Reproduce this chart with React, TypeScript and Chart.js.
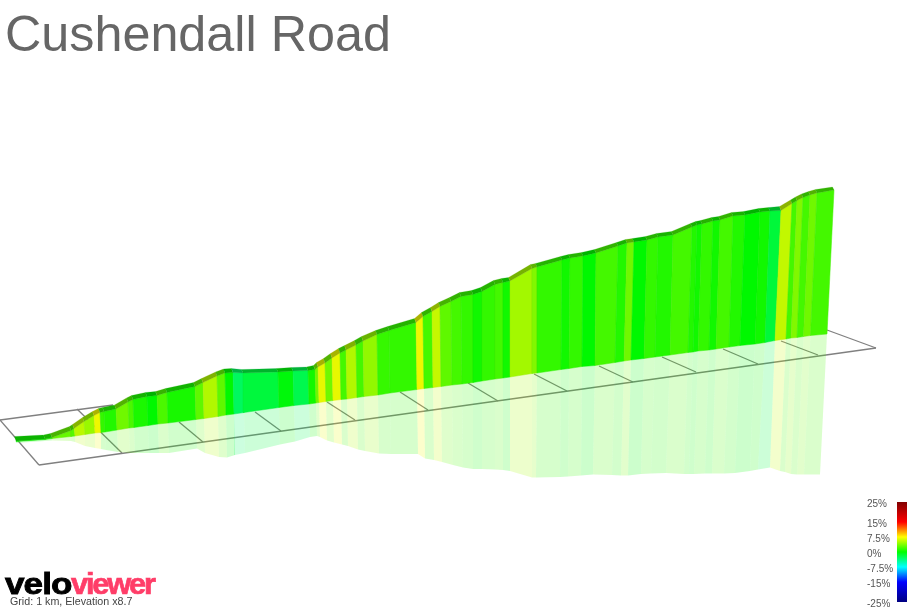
import React, { useEffect, useRef } from 'react';
import Chart from 'chart.js/auto';

// one entry per station along the climb
const topX = [16, 45, 52, 71, 74, 84, 94, 100, 104, 116, 128, 133, 147, 157, 167, 195, 203, 217, 225, 233, 243, 278, 293, 308, 315, 318, 325, 332, 340, 346, 356, 363, 377, 389, 416, 423, 432, 440, 451, 461, 473, 482, 495, 503, 510, 532, 537, 562, 570, 583, 596, 618, 627, 634, 647, 658, 673, 692, 697, 702, 713, 720, 733, 745, 760, 770, 781, 792, 797, 803, 810, 817, 834];
const ridgeY = [436.5, 435, 433.5, 426.5, 424.5, 417.5, 411.5, 408.5, 407.5, 405, 398, 395.5, 392.5, 391.5, 388.5, 382.5, 378.5, 372, 369, 368.5, 369.5, 368.5, 367.5, 367, 365.5, 362.5, 358.5, 353.5, 348.5, 345.5, 340.5, 336.5, 330.5, 326.5, 318.5, 312.5, 307.5, 302.5, 297.5, 292.5, 290.5, 287.5, 280.5, 278.5, 277.5, 264.5, 263.5, 256.5, 254.5, 252.5, 249.5, 242.5, 239.5, 238.5, 236.5, 233.5, 231.5, 223.5, 221.5, 220.5, 217.5, 216.5, 212.5, 211.5, 208.5, 207.5, 206.5, 200, 197, 194, 191.5, 189.5, 187];
const wallY = [441, 439, 437.5, 430.5, 428.5, 421.5, 415.5, 412.5, 411.5, 409, 402, 399.5, 396.5, 395.5, 392.5, 386.5, 382.5, 376, 373, 372.5, 373, 372, 371, 370.5, 369.5, 367, 363, 358, 353, 350, 345, 341, 334.5, 330.5, 322.5, 316.5, 311.5, 306.5, 301.5, 296.5, 294.5, 291.5, 284.5, 282.5, 281, 268.5, 267, 260, 258, 256, 253, 246, 243, 242, 240, 237, 235, 227, 225, 224, 221, 220, 216, 215, 212, 211, 210.5, 203.5, 200.5, 197.5, 195, 193, 190];
const baseX = [16, 45, 52, 71, 75, 85, 95, 101, 105, 117, 129, 134, 148, 158, 168, 196, 204, 218, 226, 234, 244, 279, 294, 309, 316, 319, 326, 333, 341, 347, 357, 364, 378, 390, 417, 424, 433, 441, 452, 462, 473, 482, 495, 503, 510, 532, 537, 561, 569, 582, 595, 615, 624, 631, 644, 655, 670, 688, 693, 698, 709, 716, 729, 740, 755, 765, 775, 786, 791, 797, 803.5, 810.5, 827];
const baseY = [441.5, 439.5, 438.5, 436.5, 436, 434.5, 433, 432.5, 432, 430, 428, 427.5, 425.5, 424, 423, 419.5, 418.5, 416.5, 415, 414, 412.5, 407.5, 405.5, 404, 403, 402.5, 401.5, 400.5, 399.5, 399, 397.5, 396.5, 395, 393, 389.5, 388.5, 387.5, 386.5, 385, 384, 382.5, 381, 379, 378, 377, 373.5, 373, 369.5, 368.5, 366.5, 365.5, 362.5, 361, 360, 358.5, 357, 355, 352.5, 352, 351, 350, 349, 347, 345.5, 344, 342.5, 340.5, 339, 338, 337.5, 336.5, 335.5, 334];
const mirrorX = [16, 45, 52, 71, 75, 85, 95, 101, 106, 118, 130, 135, 149, 159, 169, 197, 205, 219, 227, 235, 245, 280, 295, 310, 317, 320, 327, 334, 342, 348, 358, 365, 379, 391, 418, 425, 434, 442, 453, 463, 473, 482, 495, 503, 510, 532, 536, 560, 568, 581, 593, 612, 621, 628, 641, 651, 666, 684, 689, 694, 705, 712, 724, 735, 750, 758, 770, 780, 785, 791, 797, 804, 820];
const mirrorY = [443, 441, 440.5, 441, 442, 446, 448, 449, 450, 452, 453, 453, 453, 453, 453, 448.5, 453, 457, 457.5, 455, 453, 444.5, 441.5, 437, 436, 437, 440.5, 442.5, 444.5, 446, 449.5, 451, 453.5, 454, 454, 458.5, 460, 462, 465, 467.5, 469, 469, 469.5, 470, 471, 477.5, 477.5, 477, 476.5, 475.5, 474.5, 475, 475.5, 475.5, 474, 473.5, 473, 474, 474, 474, 473.5, 473.5, 473.5, 473, 471, 469.5, 467.5, 471, 472, 474, 474.5, 474.5, 474.5];
// gradient in % for the stretch after each station
const grades = [0.5, 1, 3, 2.5, 5.5, 4.5, 7, 1.5, 1, 3.3, 2.2, 0.8, 0, 2.2, 0.7, 2.8, 5.2, 2.8, 0, -2.8, -1.8, -0.3, -2.3, 0.5, 3.3, 6.8, 3.3, 6.8, 2, 5.2, 2, 4.3, 1.6, 1.5, 7, 2, 5.8, 2.8, 2, 1.5, 0.5, 1.5, 2, 0.5, 4.8, 3.8, 1.5, 0.5, 1.5, 0, 2, 1, 3.3, 0, 1.5, 1, 2, 1, 0.5, 1.5, 0.5, 2, 1, 0, 0.5, -1.7, 5.7, 2, 3.8, 2, 3.3, 2];

// ground grid, 1 km squares
const gridFrontX = [39, 122, 203, 281, 355, 428, 498, 567, 633, 696, 758, 818, 876];
const gridFrontY = [465, 453, 442, 431, 420, 410, 401, 391, 382, 372, 364, 355, 348];
const gridBackX = [0, 77, 179, 255, 327, 400, 468, 534, 599, 662, 723, 781, 827];
const gridBackY = [420, 409, 422, 412, 402, 392, 383, 374, 366, 357, 349, 341, 330];

const legendLabels = ['25%', '15%', '7.5%', '0%', '-7.5%', '-15%', '-25%'];
const legendTop = [497, 517, 532, 547, 562, 577, 597];
const legendColours = ['#800000', '#ff0000', '#ffff00', '#00ff00', '#00ffff', '#0000ff', '#000080'];
const legendStops = [0, 20, 35, 50, 65, 80, 100];

const gradeColour = (g: number, k = 1) => {
  const r = g > 0 ? Math.min(255, (g / 7.5) * 255) : 0;
  const b = g < 0 ? Math.min(255, (-g / 7.5) * 255) : 0;
  return `rgb(${Math.round(r * k)},${Math.round(248 * k)},${Math.round(b * k)})`;
};
const gradeAlpha = (g: number, a: number) => {
  const r = g > 0 ? Math.min(255, (g / 7.5) * 255) : 0;
  const b = g < 0 ? Math.min(255, (-g / 7.5) * 255) : 0;
  return `rgba(${Math.round(r)},248,${Math.round(b)},${a})`;
};

const quad = (pts: number[][], fill: string, edge: string, edgeWidth: number) => ({
  data: [...pts, pts[0]].map(([x, y]) => ({ x, y })),
  showLine: true,
  fill: 'shape' as const,
  backgroundColor: fill,
  borderColor: edge,
  borderWidth: edgeWidth,
  pointRadius: 0,
  tension: 0,
});

const line = (x0: number, y0: number, x1: number, y1: number) => ({
  data: [{ x: x0, y: y0 }, { x: x1, y: y1 }],
  showLine: true,
  fill: false,
  borderColor: '#808080',
  borderWidth: 1.3,
  pointRadius: 0,
});

const App: React.FC = () => {
  const canvasRef = useRef<HTMLCanvasElement>(null);

  useEffect(() => {
    if (!canvasRef.current) return;
    document.body.style.margin = '0';

    const datasets: any[] = [];

    // grid first, everything else goes over it
    gridFrontX.forEach((x, i) => datasets.push(line(x, gridFrontY[i], gridBackX[i], gridBackY[i])));
    datasets.push(line(gridFrontX[0], gridFrontY[0], gridFrontX[12], gridFrontY[12]));
    datasets.push(line(gridBackX[0], gridBackY[0], 113, 405));

    grades.forEach((g, i) => {
      // reflection
      datasets.push(quad([
        [baseX[i], baseY[i]], [baseX[i + 1], baseY[i + 1]],
        [mirrorX[i + 1], mirrorY[i + 1]], [mirrorX[i], mirrorY[i]],
      ], gradeAlpha(g, 0.2), 'rgba(0,0,0,0)', 0));
    });
    grades.forEach((g, i) => {
      // wall
      datasets.push(quad([
        [topX[i], wallY[i]], [topX[i + 1], wallY[i + 1]],
        [baseX[i + 1], baseY[i + 1]], [baseX[i], baseY[i]],
      ], gradeColour(g), gradeColour(g, 0.95), 0.5));
      // road surface on top of the wall
      datasets.push(quad([
        [topX[i] - 1.5, ridgeY[i]], [topX[i + 1] - 1.5, ridgeY[i + 1]],
        [topX[i + 1], wallY[i + 1]], [topX[i], wallY[i]],
      ], gradeColour(g, 0.72), gradeColour(g, 0.72), 0.2));
    });

    // chart.js paints the first dataset last
    datasets.reverse();

    const chart = new Chart(canvasRef.current, {
      type: 'scatter',
      data: { datasets },
      options: {
        responsive: false,
        animation: false,
        layout: { padding: 0 },
        events: [],
        scales: {
          x: { type: 'linear', min: 0, max: 907, display: false },
          y: { type: 'linear', min: 0, max: 607, reverse: true, display: false },
        },
        plugins: {
          legend: { display: false },
          tooltip: { enabled: false },
          title: { display: false },
        },
      },
    });

    return () => {
      chart.destroy();
    };
  }, []);

  const gradient = legendColours.map((c, i) => `${c} ${legendStops[i]}%`).join(', ');

  return (
    <div style={{ position: 'relative', width: 907, height: 607, overflow: 'hidden', background: '#fff', fontFamily: '"Liberation Sans", Arial, sans-serif' }}>
      <canvas ref={canvasRef} width={907} height={607} style={{ position: 'absolute', left: 0, top: 0 }} />
      <div style={{ position: 'absolute', left: 5, top: 4, fontSize: 50.3, color: '#666', whiteSpace: 'nowrap' }}>Cushendall Road</div>
      <div style={{ position: 'absolute', left: 897, top: 502, width: 10, height: 100, background: `linear-gradient(to bottom, ${gradient})` }} />
      {legendLabels.map((t, i) => (
        <div key={t} style={{ position: 'absolute', left: 867, top: legendTop[i], fontSize: 10, lineHeight: '14px', color: '#555' }}>{t}</div>
      ))}
      <div style={{ position: 'absolute', left: 5, top: 561, fontSize: 35, lineHeight: '40px', fontWeight: 'bold', whiteSpace: 'nowrap', transform: 'scaleY(0.85)', transformOrigin: 'bottom' }}>
        <span style={{ color: '#000', WebkitTextStroke: '1px #000', letterSpacing: -0.9 }}>velo</span>
        <span style={{ display: 'inline-block', color: '#ff3d68', WebkitTextStroke: '0.8px #ff3d68', letterSpacing: -2.5, transform: 'scaleX(0.88)', transformOrigin: 'left' }}>viewer</span>
      </div>
      <div style={{ position: 'absolute', left: 10, top: 595, fontSize: 10.7, lineHeight: '12px', color: '#444', whiteSpace: 'nowrap' }}>Grid: 1 km, Elevation x8.7</div>
    </div>
  );
};

export default App;
